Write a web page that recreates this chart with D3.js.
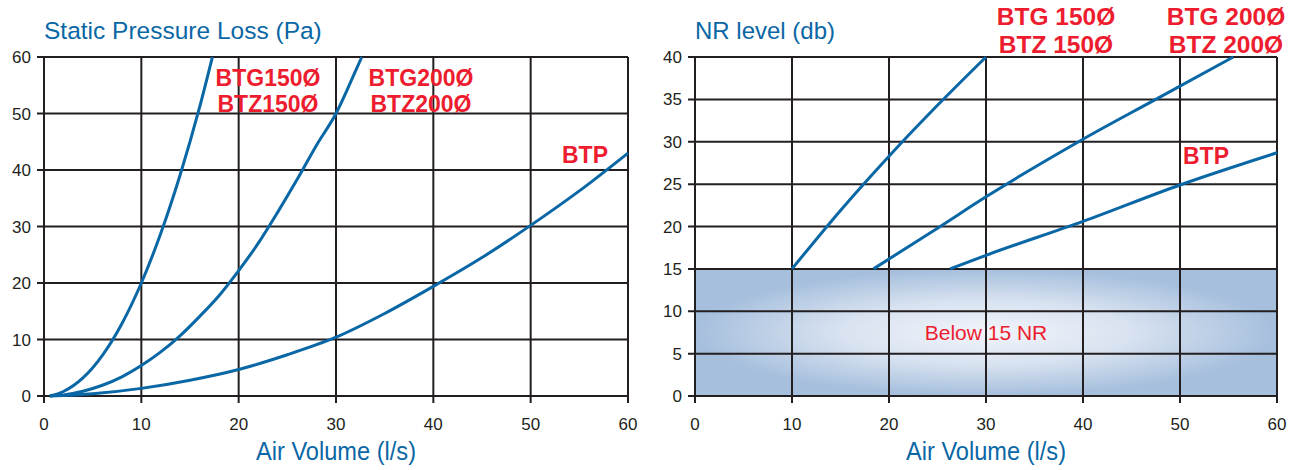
<!DOCTYPE html>
<html><head><meta charset="utf-8">
<script src="https://cdn.jsdelivr.net/npm/d3@7"></script>
<style>
html,body{margin:0;padding:0;background:#fff;}
svg{display:block;}
text{font-family:"Liberation Sans Narrow","Liberation Sans",Arial,sans-serif;}
</style></head>
<body>
<svg id="c" width="1298" height="470"></svg>
<script>
// ---- data ----
const xTicks = [0,10,20,30,40,50,60];
const pressureTicks = [0,10,20,30,40,50,60];
const nrTicks = [0,5,10,15,20,25,30,35,40];

// Static pressure loss (Pa) vs air volume (l/s)
const pBTG150 = [[0.6,0],[2,0.8],[4,3.2],[6,7.2],[8,12.8],[10,20],[12,28.8],[14,39.2],[16,51.2],[17.3,60]];
const pBTG200 = [[0.6,0],[2,0.2],[4,0.85],[6,1.9],[8,3.4],[10,5.4],[12,7.8],[14,10.7],[16,14.1],[18,17.8],[20,22.2],[22,27],[24,32.5],[26,38.3],[28,44.4],[30,50],[32,57.5],[32.65,60]];
const pBTP    = [[0.6,0],[5,0.4],[10,1.35],[15,2.8],[20,4.7],[25,7.3],[30,10.4],[35,14.6],[40,19.4],[45,24.5],[50,30.2],[55,36.3],[60,43]];

// NR level (db) vs air volume (l/s)
const nBTG150 = [[10,15],[15,21.9],[20,28.3],[25,34.3],[30,40]];
const nBTG200 = [[18.4,15],[25,19.8],[30,23.5],[40,30.3],[47.5,35],[55.5,40]];
const nBTP    = [[26.3,15],[30,16.6],[40,20.6],[50,24.9],[60,28.7]];
const belowLimit = 15;

const blue = "#0a67a6", red = "#ed1c2e", grid = "#231f20";
const svg = d3.select("#c");

const defs = svg.append("defs");
const rg = defs.append("radialGradient").attr("id","shade")
  .attr("cx","0.5").attr("cy","0.5").attr("r","0.5");
rg.append("stop").attr("offset","0").attr("stop-color","#f2f5fb");
rg.append("stop").attr("offset","0.5").attr("stop-color","#d8e2f0");
rg.append("stop").attr("offset","1").attr("stop-color","#a6bfdd");

function panel(opts){
  const g = svg.append("g");
  const x = d3.scaleLinear().domain([0,60]).range([opts.x0,opts.x1]);
  const y = d3.scaleLinear().domain([0,opts.ymax]).range([396,57]);

  if(opts.shade){
    g.append("rect").attr("x",x(0)).attr("y",y(opts.shade))
      .attr("width",x(60)-x(0)).attr("height",y(0)-y(opts.shade))
      .attr("fill","url(#shade)");
    g.append("text").attr("x",x(30)).attr("y",y(7.5)+8)
      .attr("text-anchor","middle").attr("fill",red)
      .attr("font-size",21).text(opts.shadeText);
  }

  // grid
  g.append("g").selectAll("line").data(opts.yTicks).join("line")
    .attr("x1",x(0)-7).attr("x2",x(60)).attr("y1",d=>y(d)).attr("y2",d=>y(d))
    .attr("stroke",grid).attr("stroke-width",2);
  g.append("g").selectAll("line").data(xTicks).join("line")
    .attr("x1",d=>x(d)).attr("x2",d=>x(d)).attr("y1",y(opts.ymax)).attr("y2",y(0)+7)
    .attr("stroke",grid).attr("stroke-width",2);

  // tick labels
  g.append("g").selectAll("text").data(opts.yTicks).join("text")
    .attr("x",x(0)-13).attr("y",d=>y(d)+6).attr("text-anchor","end")
    .attr("font-size",17).attr("fill","#231f20").text(d=>d);
  g.append("g").selectAll("text").data(xTicks).join("text")
    .attr("x",d=>x(d)).attr("y",430).attr("text-anchor","middle")
    .attr("font-size",17).attr("fill","#231f20").text(d=>d);

  // axis titles
  g.append("text").attr("x",x(0)).attr("y",opts.titleY)
    .attr("fill",blue).attr("font-family","'Liberation Sans',Arial,sans-serif")
    .style("font-size",opts.titleSize+"px").text(opts.title);
  g.append("text").attr("x",x(30)).attr("y",460).attr("text-anchor","middle")
    .attr("font-size",25).attr("fill",blue)
    .attr("textLength",160).attr("lengthAdjust","spacingAndGlyphs")
    .text("Air Volume (l/s)");

  // curves
  const line = d3.line().x(d=>x(d[0])).y(d=>y(d[1])).curve(d3.curveMonotoneX);
  g.append("g").selectAll("path").data(opts.series).join("path")
    .attr("d",line).attr("fill","none").attr("stroke",blue).attr("stroke-width",3);

  // labels
  opts.labels.forEach(l=>{
    const t = g.append("text").attr("text-anchor","middle").attr("fill",red)
      .attr("font-family","'Liberation Sans',Arial,sans-serif")
      .attr("font-weight","bold").attr("font-size",l.size);
    l.lines.forEach((s,i)=>t.append("tspan").attr("x",l.cx).attr("y",l.by+i*l.lh).text(s));
  });
}

panel({x0:44,x1:628,ymax:60,yTicks:pressureTicks,title:"Static Pressure Loss (Pa)",titleY:39,titleSize:24.5,
  series:[pBTG150,pBTG200,pBTP],
  labels:[
    {cx:268,by:86,lh:26,size:23,lines:["BTG150Ø","BTZ150Ø"]},
    {cx:421,by:86,lh:26,size:23,lines:["BTG200Ø","BTZ200Ø"]},
    {cx:585,by:163,lh:0,size:23,lines:["BTP"]}
  ]});

panel({x0:695,x1:1277,ymax:40,yTicks:nrTicks,title:"NR level (db)",titleY:39,titleSize:24,
  shade:belowLimit,shadeText:"Below 15 NR",
  series:[nBTG150,nBTG200,nBTP],
  labels:[
    {cx:1056,by:25,lh:28,size:24.5,lines:["BTG 150Ø","BTZ 150Ø"]},
    {cx:1226,by:25,lh:28,size:24.5,lines:["BTG 200Ø","BTZ 200Ø"]},
    {cx:1206,by:164,lh:0,size:23,lines:["BTP"]}
  ]});
</script>
</body></html>
